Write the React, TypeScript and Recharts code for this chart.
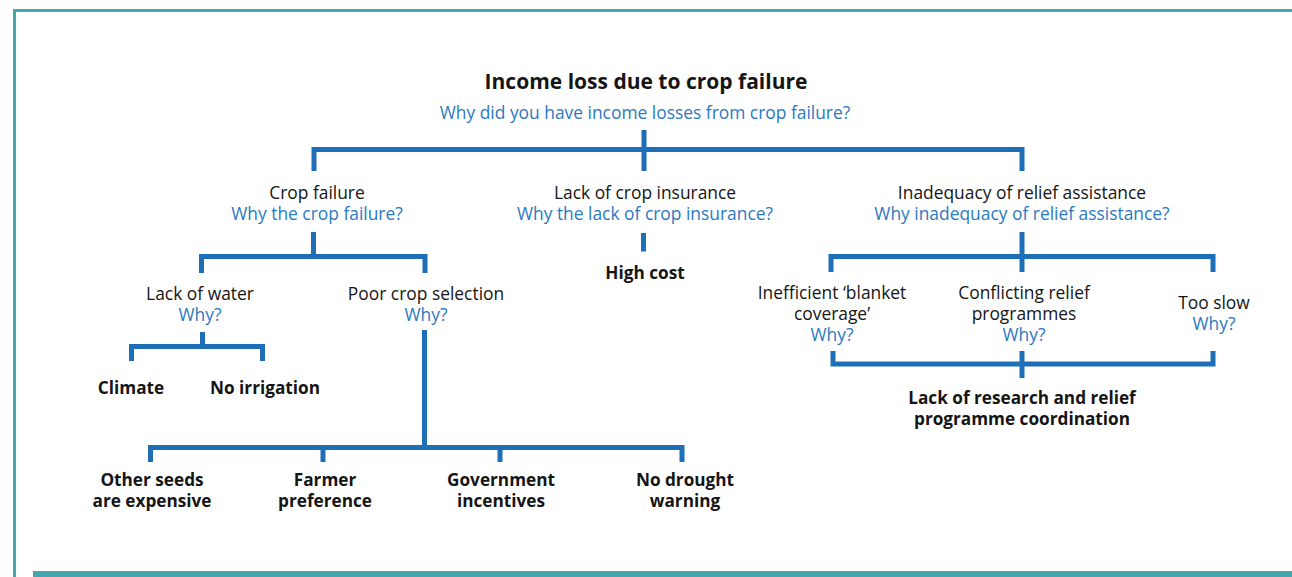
import React from 'react';
import { ScatterChart, Scatter, XAxis, YAxis } from 'recharts';

const WIDTH = 1292;
const HEIGHT = 577;
const LINE_BLUE = '#1f6fb8';
const TEXT_BLUE = '#2b79c2';
const TEXT_DARK = '#151515';
const TEAL = '#46a6ad';

// tree nodes: label lines, the follow-up question lines, and whether the node is a root cause
type TreeNode = { x: number; y: number; label: string[]; why?: string[]; kind: 'title' | 'cause' | 'root' | 'question' };

const headerNodes: TreeNode[] = [
  { x: 646, y: 80.5, label: ['Income loss due to crop failure'], kind: 'title' },
  { x: 645, y: 112, label: ['Why did you have income losses from crop failure?'], kind: 'question' },
];

const levelOneNodes: TreeNode[] = [
  { x: 317, y: 191.5, label: ['Crop failure'], why: ['Why the crop failure?'], kind: 'cause' },
  { x: 645, y: 191.5, label: ['Lack of crop insurance'], why: ['Why the lack of crop insurance?'], kind: 'cause' },
  { x: 1022, y: 191.5, label: ['Inadequacy of relief assistance'], why: ['Why inadequacy of relief assistance?'], kind: 'cause' },
];

const levelTwoNodes: TreeNode[] = [
  { x: 200, y: 292.5, label: ['Lack of water'], why: ['Why?'], kind: 'cause' },
  { x: 426, y: 292.5, label: ['Poor crop selection'], why: ['Why?'], kind: 'cause' },
  { x: 645, y: 272, label: ['High cost'], kind: 'root' },
  { x: 832, y: 292, label: ['Inefficient \u2018blanket', 'coverage\u2019'], why: ['Why?'], kind: 'cause' },
  { x: 1024, y: 292, label: ['Conflicting relief', 'programmes'], why: ['Why?'], kind: 'cause' },
  { x: 1214, y: 302, label: ['Too slow'], why: ['Why?'], kind: 'cause' },
];

const rootCauseNodes: TreeNode[] = [
  { x: 131, y: 387, label: ['Climate'], kind: 'root' },
  { x: 265, y: 387, label: ['No irrigation'], kind: 'root' },
  { x: 1022, y: 397, label: ['Lack of research and relief', 'programme coordination'], kind: 'root' },
  { x: 152, y: 479, label: ['Other seeds', 'are expensive'], kind: 'root' },
  { x: 325, y: 479, label: ['Farmer', 'preference'], kind: 'root' },
  { x: 501, y: 479, label: ['Government', 'incentives'], kind: 'root' },
  { x: 685, y: 479, label: ['No drought', 'warning'], kind: 'root' },
];

// connector polylines, in the same x/y space as the nodes
const connectors: { x: number; y: number }[][] = [
  [{ x: 644, y: 130 }, { x: 644, y: 171 }],
  [{ x: 314, y: 171 }, { x: 314, y: 149.5 }, { x: 1022, y: 149.5 }, { x: 1022, y: 171 }],
  [{ x: 313.5, y: 232 }, { x: 313.5, y: 256.5 }],
  [{ x: 201.5, y: 273 }, { x: 201.5, y: 256.5 }, { x: 425, y: 256.5 }, { x: 425, y: 273 }],
  [{ x: 643.5, y: 233 }, { x: 643.5, y: 251.5 }],
  [{ x: 1022, y: 232 }, { x: 1022, y: 272 }],
  [{ x: 831, y: 272 }, { x: 831, y: 256.5 }, { x: 1213, y: 256.5 }, { x: 1213, y: 272 }],
  [{ x: 202.5, y: 332 }, { x: 202.5, y: 346.5 }],
  [{ x: 131.5, y: 361 }, { x: 131.5, y: 346.5 }, { x: 262.5, y: 346.5 }, { x: 262.5, y: 361 }],
  [{ x: 424.5, y: 330 }, { x: 424.5, y: 447.5 }],
  [{ x: 150.5, y: 462 }, { x: 150.5, y: 447.5 }, { x: 682, y: 447.5 }, { x: 682, y: 462 }],
  [{ x: 323, y: 447.5 }, { x: 323, y: 462 }],
  [{ x: 500, y: 447.5 }, { x: 500, y: 462 }],
  [{ x: 833, y: 351 }, { x: 833, y: 364 }, { x: 1213, y: 364 }, { x: 1213, y: 351 }],
  [{ x: 1022, y: 351 }, { x: 1022, y: 378 }],
];

const NoDot = () => <g />;

// one <text> per node, each line a tspan
const NodeLabel = (props: any) => {
  const { cx, cy } = props;
  const node: TreeNode = props.payload ?? props;
  const bold = node.kind === 'title' || node.kind === 'root';
  const size = node.kind === 'title' ? 21 : bold ? 17.2 : 17.4;
  const step = bold ? 20.5 : 21;
  const colour = node.kind === 'question' ? TEXT_BLUE : TEXT_DARK;
  const rows = [
    ...node.label.map((t) => ({ t, c: colour })),
    ...(node.why ?? []).map((t) => ({ t, c: TEXT_BLUE })),
  ];
  return (
    <text
      x={cx}
      y={cy}
      textAnchor="middle"
      dominantBaseline="central"
      fontFamily="'Open Sans', sans-serif"
      fontSize={size}
      fontWeight={bold ? 700 : 400}
    >
      {rows.map((r, i) => (
        <tspan key={i} x={cx} y={cy + i * step} fill={r.c}>
          {r.t}
        </tspan>
      ))}
    </text>
  );
};

export default function App() {
  return (
    <div style={{ position: 'absolute', left: 0, top: 0, width: WIDTH, height: HEIGHT, background: '#fff', overflow: 'hidden' }}>
      {/* frame: thin teal top and left rules, thick bar along the bottom */}
      <div style={{ position: 'absolute', left: 13, top: 9, right: 0, height: 3, background: TEAL }} />
      <div style={{ position: 'absolute', left: 13, top: 9, width: 3, bottom: 0, background: TEAL }} />
      <div style={{ position: 'absolute', left: 33, right: 0, top: 571, height: 6, background: TEAL }} />

      <div style={{ position: 'absolute', left: 0, top: 0 }}>
        <ScatterChart width={WIDTH} height={HEIGHT} margin={{ top: 0, right: 0, bottom: 0, left: 0 }}>
          <XAxis type="number" dataKey="x" domain={[0, WIDTH]} hide />
          <YAxis type="number" dataKey="y" domain={[0, HEIGHT]} reversed hide />
          {connectors.map((seg, i) => (
            <Scatter
              key={`c-${i}`}
              data={seg}
              line={{ stroke: LINE_BLUE, strokeWidth: 5, strokeLinejoin: 'miter' }}
              shape={NoDot}
              isAnimationActive={false}
            />
          ))}
          <Scatter data={headerNodes} shape={NodeLabel} isAnimationActive={false} />
          <Scatter data={levelOneNodes} shape={NodeLabel} isAnimationActive={false} />
          <Scatter data={levelTwoNodes} shape={NodeLabel} isAnimationActive={false} />
          <Scatter data={rootCauseNodes} shape={NodeLabel} isAnimationActive={false} />
        </ScatterChart>
      </div>
    </div>
  );
}
